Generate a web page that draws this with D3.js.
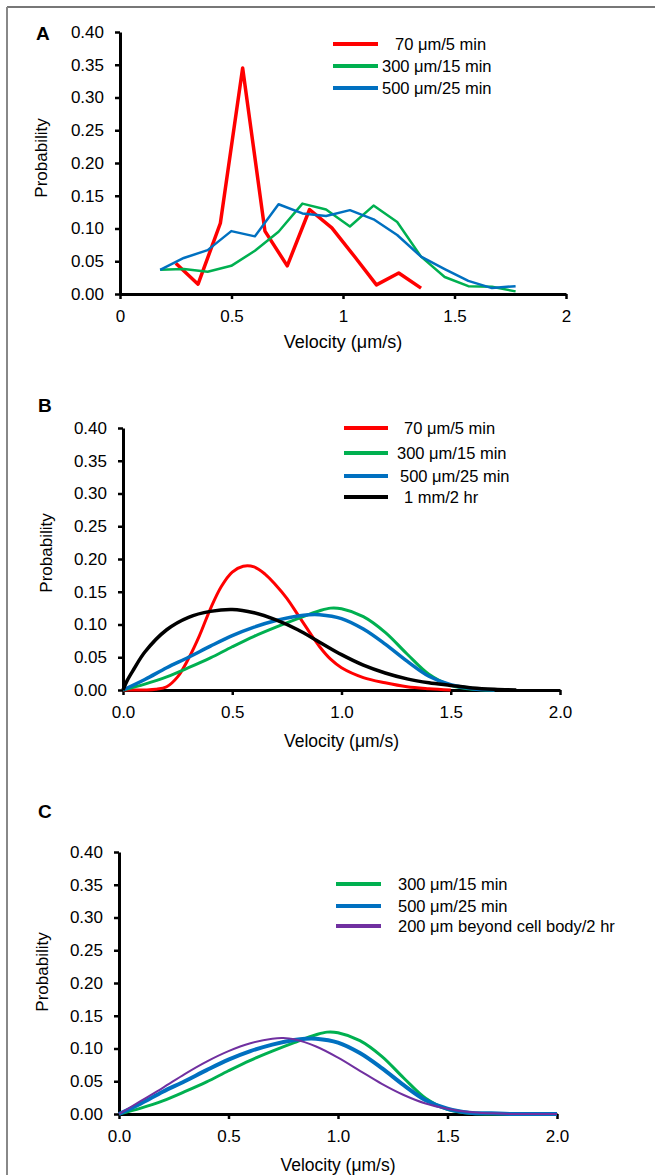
<!DOCTYPE html>
<html><head><meta charset="utf-8">
<script src="https://cdn.jsdelivr.net/npm/d3@7"></script>
<style>
body{margin:0;background:#fff}
svg{display:block}
text{font-family:"Liberation Sans",Arial,Helvetica,sans-serif;fill:#000}
</style>
</head><body>
<svg id="chart" width="655" height="1175"></svg>
<script>
// ---------- data ----------
const yTicks = [0,0.05,0.10,0.15,0.20,0.25,0.30,0.35,0.40];
const xTicks = [0,0.5,1,1.5,2];
const xTitle = "Velocity (\u03bcm/s)";
const yTitle = "Probability";

// Panel A (histogram-style polylines)
const aRedV   = [0.25,0.35,0.45,0.55,0.65,0.75,0.85,0.95,1.05,1.15,1.25,1.35];
const aRedP   = [0.047,0.015,0.108,0.345,0.096,0.043,0.129,0.101,0.058,0.014,0.032,0.009];
const aBinV   = [0.18,0.286,0.393,0.499,0.605,0.711,0.818,0.924,1.031,1.137,1.243,1.35,1.456,1.562,1.668,1.774];
const aGreenP = [0.037,0.038,0.034,0.043,0.066,0.095,0.138,0.129,0.103,0.135,0.11,0.057,0.026,0.012,0.011,0.004];
const aBlueP  = [0.037,0.055,0.067,0.096,0.088,0.137,0.123,0.119,0.128,0.114,0.09,0.057,0.038,0.02,0.009,0.012];

// Panel B (fitted curves)
const bRedV   = [0,0.1,0.15,0.2,0.25,0.3,0.35,0.4,0.45,0.5,0.55,0.6,0.65,0.7,0.75,0.8,0.85,0.9,0.95,1.0,1.1,1.2,1.3,1.4,1.5];
const bRedP   = [0,0,0.001,0.005,0.02,0.048,0.083,0.124,0.158,0.18,0.189,0.188,0.177,0.16,0.14,0.115,0.09,0.066,0.047,0.034,0.019,0.011,0.005,0.002,0];
const bGreenV = [0,0.1,0.2,0.3,0.4,0.5,0.6,0.7,0.8,0.9,0.95,1.0,1.1,1.2,1.3,1.4,1.5,1.6,1.7];
const bGreenP = [0,0.009,0.02,0.034,0.049,0.066,0.082,0.096,0.109,0.121,0.125,0.124,0.112,0.088,0.055,0.024,0.007,0.001,0];
const bBlueV  = [0,0.1,0.2,0.3,0.4,0.5,0.6,0.7,0.8,0.85,0.9,1.0,1.1,1.2,1.3,1.4,1.5,1.6,1.7];
const bBlueP  = [0,0.016,0.034,0.05,0.067,0.083,0.096,0.106,0.113,0.115,0.115,0.109,0.093,0.07,0.044,0.021,0.008,0.002,0];
const bBlackV = [0,0.02,0.05,0.1,0.2,0.3,0.4,0.5,0.6,0.7,0.8,0.9,1.0,1.1,1.2,1.3,1.4,1.5,1.6,1.7,1.8];
const bBlackP = [0,0.015,0.032,0.058,0.092,0.111,0.12,0.123,0.118,0.107,0.092,0.073,0.054,0.038,0.026,0.017,0.011,0.007,0.003,0.001,0];

// Panel C (fitted curves)
const cGreenV  = [0,0.1,0.2,0.3,0.4,0.5,0.6,0.7,0.8,0.9,0.95,1.0,1.1,1.2,1.3,1.4,1.5,1.6,1.7,1.8,2.0];
const cGreenP  = [0,0.009,0.02,0.034,0.049,0.066,0.082,0.096,0.109,0.121,0.125,0.124,0.112,0.088,0.055,0.024,0.007,0.001,0,0,0];
const cBlueV   = [0,0.1,0.2,0.3,0.4,0.5,0.6,0.7,0.8,0.85,0.9,1.0,1.1,1.2,1.3,1.4,1.5,1.6,1.7,1.8,2.0];
const cBlueP   = [0,0.016,0.034,0.05,0.067,0.083,0.096,0.106,0.113,0.115,0.115,0.109,0.093,0.07,0.044,0.021,0.008,0.002,0.001,0,0];
const cPurpleV = [0,0.1,0.2,0.3,0.4,0.5,0.6,0.7,0.75,0.8,0.9,1.0,1.1,1.2,1.3,1.4,1.5,1.6,1.7,1.8,2.0];
const cPurpleP = [0,0.02,0.04,0.061,0.08,0.096,0.108,0.115,0.116,0.114,0.103,0.086,0.066,0.046,0.029,0.016,0.008,0.003,0.001,0,0];

const labels70  = "70 \u03bcm/5 min";
const labels300 = "300 \u03bcm/15 min";
const labels500 = "500 \u03bcm/25 min";
const labels1mm = "1 mm/2 hr";
const labels200 = "200 \u03bcm beyond cell body/2 hr";

const RED = "#ff0000", GREEN = "#00b050", BLUE = "#0070c0", BLACK = "#000000", PURPLE = "#7030a0";

// ---------- drawing ----------
const svg = d3.select("#chart");

// frame
svg.append("line").attr("x1",7).attr("x2",655).attr("y1",7).attr("y2",7).attr("stroke","#777").attr("stroke-width",2);
svg.append("line").attr("x1",7).attr("x2",7).attr("y1",7).attr("y2",1175).attr("stroke","#888").attr("stroke-width",2);

function panel(o){
  const g = svg.append("g");
  const x = d3.scaleLinear().domain([0,2]).range([o.x0,o.x1]);
  const y = d3.scaleLinear().domain([0,0.4]).range([o.y0,o.y1]);

  const ya = g.append("g").attr("transform",`translate(${o.x0},0)`)
    .call(d3.axisLeft(y).tickValues(yTicks).tickFormat(d3.format(".2f")).tickSize(5).tickSizeOuter(0).tickPadding(11));
  const xa = g.append("g").attr("transform",`translate(0,${o.y0})`)
    .call(d3.axisBottom(x).tickValues(xTicks).tickFormat(o.xFmt).tickSize(5).tickSizeOuter(0).tickPadding(11));
  [ya,xa].forEach(a=>{
    a.select(".domain").attr("stroke","#000").attr("stroke-width",3);
    a.selectAll(".tick line").attr("stroke","#000").attr("stroke-width",2.5);
    a.selectAll(".tick text").attr("font-size",17).attr("font-family",null).attr("fill","#000");
  });

  const line = d3.line().x(d=>x(d[0])).y(d=>y(Math.max(0,d[1]))).curve(o.curve);
  o.series.forEach(s=>{
    const pts = s.v.map((v,i)=>[v,s.p[i]]);
    g.append("path").datum(pts).attr("fill","none").attr("stroke",s.color)
      .attr("stroke-width",s.w).attr("stroke-linejoin","round").attr("d",line);
  });

  g.append("text").attr("x",(o.x0+o.x1)/2).attr("y",o.y0+o.xtDy).attr("text-anchor","middle")
    .attr("font-size",o.xtSize).text(xTitle);
  g.append("text").attr("transform",`translate(${o.ytX},${o.ytY}) rotate(-90)`).attr("text-anchor","middle")
    .attr("font-size",17).text(yTitle);
  g.append("text").attr("x",o.letterX).attr("y",o.letterY).attr("font-size",19).attr("font-weight","bold").text(o.letter);

  o.series.forEach((s,i)=>{
    const ry = o.legRows[i];
    g.append("line").attr("x1",o.legX0).attr("x2",o.legX1).attr("y1",ry).attr("y2",ry)
      .attr("stroke",s.color).attr("stroke-width",4);
    g.append("text").attr("x",o.legTx + (s.indent||0)).attr("y",ry).attr("dy","0.36em")
      .attr("font-size",16.5).text(s.label);
  });
}

panel({
  letter:"A", letterX:36, letterY:40,
  x0:120, x1:566, y0:294, y1:32, xFmt:d3.format(""), curve:d3.curveLinear,
  xtDy:54, xtSize:18, ytX:47, ytY:158,
  legX0:333, legX1:378, legTx:382, legRows:[44,66,88],
  series:[
    {v:aRedV, p:aRedP, color:RED, w:3.5, label:labels70, indent:13},
    {v:aBinV, p:aGreenP, color:GREEN, w:2.5, label:labels300},
    {v:aBinV, p:aBlueP, color:BLUE, w:2.5, label:labels500}
  ]
});

panel({
  letter:"B", letterX:38, letterY:412,
  x0:123, x1:560, y0:690, y1:428, xFmt:d3.format(".1f"), curve:d3.curveCatmullRom.alpha(0.5),
  xtDy:57, xtSize:17.5, ytX:52, ytY:553,
  legX0:344, legX1:388, legTx:397, legRows:[428,453,476,497],
  series:[
    {v:bRedV, p:bRedP, color:RED, w:3, label:labels70, indent:7},
    {v:bGreenV, p:bGreenP, color:GREEN, w:3, label:labels300},
    {v:bBlueV, p:bBlueP, color:BLUE, w:3.5, label:labels500, indent:3},
    {v:bBlackV, p:bBlackP, color:BLACK, w:3.5, label:labels1mm, indent:7}
  ]
});

panel({
  letter:"C", letterX:38, letterY:818,
  x0:119, x1:557, y0:1114, y1:852, xFmt:d3.format(".1f"), curve:d3.curveCatmullRom.alpha(0.5),
  xtDy:57, xtSize:17.5, ytX:48, ytY:972,
  legX0:336, legX1:381, legTx:398, legRows:[884,906,926],
  series:[
    {v:cGreenV, p:cGreenP, color:GREEN, w:3, label:labels300},
    {v:cBlueV, p:cBlueP, color:BLUE, w:4, label:labels500},
    {v:cPurpleV, p:cPurpleP, color:PURPLE, w:2, label:labels200}
  ]
});
</script>
</body></html>
